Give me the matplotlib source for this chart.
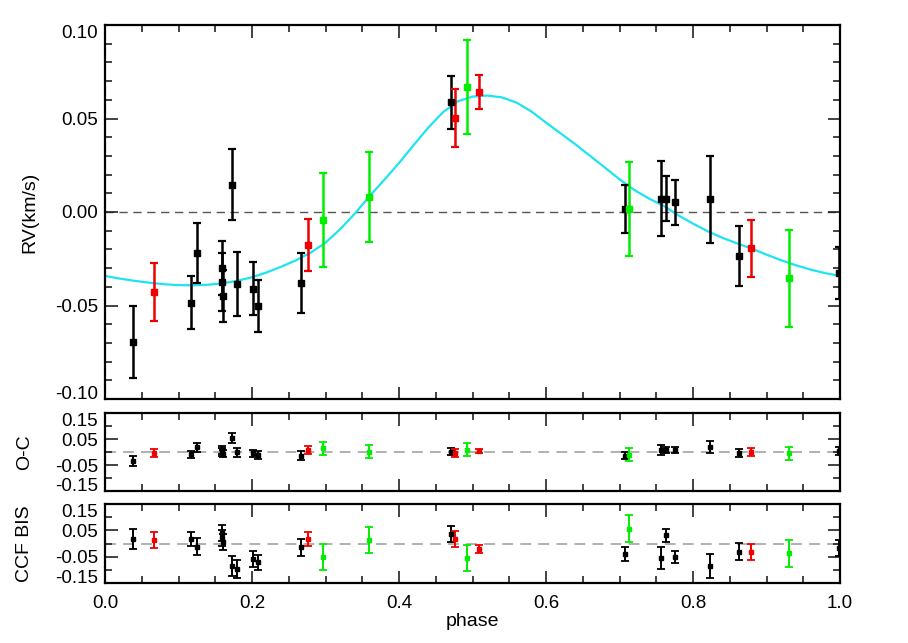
import matplotlib
matplotlib.use("Agg")
import matplotlib.pyplot as plt
from matplotlib.ticker import MultipleLocator, FixedLocator

plt.rcParams['font.family'] = ['Liberation Sans', 'DejaVu Sans']

# ---- data: black series ----
blk_phase = [0.0385, 0.1166, 0.1256, 0.1587, 0.1595, 0.1605, 0.1732, 0.179, 0.2009, 0.2082,
             0.2662, 0.4703, 0.7075, 0.756, 0.7637, 0.775, 0.8227, 0.8621, 0.9986]
blk_rv = [-0.0694, -0.0485, -0.0221, -0.030, -0.0375, -0.045, 0.0147, -0.0385, -0.041, -0.0503,
          -0.038, 0.0586, 0.0017, 0.0072, 0.0071, 0.0053, 0.0067, -0.0237, -0.0326]
blk_rv_err = [0.0193, 0.0141, 0.0161, 0.0145, 0.0155, 0.014, 0.019, 0.0172, 0.014, 0.014,
              0.016, 0.014, 0.013, 0.0201, 0.012, 0.012, 0.0231, 0.0161, 0.014]
blk_oc = [-0.0335, -0.009, 0.018, 0.008, 0.0005, -0.007, 0.0526, -0.001, -0.005, -0.0115,
          -0.014, 0.001, -0.0135, 0.0077, 0.0065, 0.0077, 0.0205, -0.005, 0.004]
blk_bis = [0.017, 0.017, -0.0115, 0.040, 0.020, 0.005, -0.085, -0.097, -0.059, -0.072,
           -0.015, 0.036, -0.041, -0.056, 0.031, -0.051, -0.085, -0.031, -0.018]
blk_bis_err = [0.039, 0.028, 0.033, 0.03, 0.03, 0.03, 0.037, 0.035, 0.030, 0.029,
               0.032, 0.029, 0.027, 0.041, 0.024, 0.024, 0.045, 0.033, 0.03]

# ---- data: red series ----
red_phase = [0.0667, 0.2757, 0.4767, 0.5088, 0.8789]
red_rv = [-0.043, -0.0174, 0.0503, 0.0641, -0.0194]
red_rv_err = [0.0155, 0.0139, 0.0156, 0.0091, 0.0151]
red_oc = [-0.005, 0.0077, -0.005, 0.004, 0.001]
red_bis = [0.013, 0.017, 0.017, -0.0215, -0.031]
red_bis_err = [0.031, 0.027, 0.032, 0.016, 0.031]

# ---- data: green series ----
grn_phase = [0.2961, 0.3587, 0.4929, 0.7129, 0.931]
grn_rv = [-0.0044, 0.0078, 0.0668, 0.0015, -0.0355]
grn_rv_err = [0.0251, 0.0241, 0.0251, 0.025, 0.026]
grn_oc = [0.014, 0.001, 0.008, -0.0115, -0.005]
grn_bis = [-0.052, 0.014, -0.055, 0.0565, -0.037]
grn_bis_err = [0.05, 0.049, 0.051, 0.051, 0.052]

# ---- model curve ----
model_phase = [0.00, 0.02, 0.04, 0.06, 0.08, 0.10, 0.12, 0.14, 0.16, 0.18,
               0.20, 0.22, 0.24, 0.26, 0.28, 0.30, 0.32, 0.34, 0.36, 0.38,
               0.40, 0.42, 0.44, 0.46, 0.48, 0.50, 0.52, 0.54, 0.56, 0.58,
               0.60, 0.62, 0.64, 0.66, 0.68, 0.70, 0.72, 0.74, 0.76, 0.78,
               0.80, 0.82, 0.84, 0.86, 0.88, 0.90, 0.92, 0.94, 0.96, 0.98, 1.00]
model_rv = [-0.0342, -0.0356, -0.0368, -0.0378, -0.0386, -0.0391, -0.0392, -0.0389, -0.0381, -0.0368,
            -0.0349, -0.0323, -0.0292, -0.0258, -0.0217, -0.0164, -0.0092, -0.0008, 0.0085, 0.0172,
            0.0262, 0.0358, 0.0452, 0.0534, 0.0592, 0.0617, 0.0623, 0.0613, 0.0585, 0.0538,
            0.0478, 0.0420, 0.0362, 0.0300, 0.0238, 0.0175, 0.0118, 0.0072, 0.0033, -0.0018,
            -0.0062, -0.0103, -0.0138, -0.0168, -0.0196, -0.0228, -0.0258, -0.0285, -0.0308, -0.0327, -0.0342]

BLACK = '#000000'
RED = '#ee0000'
GREEN = '#00ee00'
CYAN = '#1ee3f0'

series = [
    (blk_phase, blk_rv, blk_rv_err, blk_oc, blk_bis, blk_bis_err, BLACK),
    (red_phase, red_rv, red_rv_err, red_oc, red_bis, red_bis_err, RED),
    (grn_phase, grn_rv, grn_rv_err, grn_oc, grn_bis, grn_bis_err, GREEN),
]

W, H = 908, 643
fig = plt.figure(figsize=(W / 100, H / 100), dpi=100)

def rect(l, t, r, b):
    return [l / W, 1 - b / H, (r - l) / W, (b - t) / H]

ax1 = fig.add_axes(rect(105, 25, 840, 399))
ax2 = fig.add_axes(rect(105, 413, 840, 491))
ax3 = fig.add_axes(rect(105, 504, 840, 583))

for ax in (ax1, ax2, ax3):
    ax.set_xlim(0, 1)
    ax.xaxis.set_major_locator(MultipleLocator(0.2))
    ax.xaxis.set_minor_locator(MultipleLocator(0.05))
    ax.tick_params(which='both', direction='in', top=True, right=True,
                   labelsize=13.5, width=1.2, color='#222222', pad=5)
    ax.tick_params(which='major', length=9)
    ax.tick_params(which='minor', length=5)
    for sp in ax.spines.values():
        sp.set_linewidth(1.6)

# main panel
ax1.set_ylim(-0.1, 0.1)
ax1.yaxis.set_minor_locator(MultipleLocator(0.01))
ax1.set_yticks([-0.1, -0.05, 0.0, 0.05, 0.1])
ax1.set_yticklabels(['-0.10', '-0.05', '0.00', '0.05', '0.10'])
ax1.tick_params(axis='x', labelbottom=False)
ax1.axhline(0, color='#555555', lw=1.0, ls=(0, (6, 4)), zorder=1)
ax1.plot(model_phase, model_rv, color=CYAN, lw=1.6, zorder=2)
for ph, rv, er, oc, bis, ber, c in series:
    ax1.errorbar(ph, rv, yerr=er, fmt='s', color=c, ms=4.5, elinewidth=1.8,
                 capsize=3, capthick=1.6, zorder=3)
ax1.set_ylabel('RV(km/s)', fontsize=14)
ax1.yaxis.set_label_coords(-0.09, 0.5)
labs = ax1.get_yticklabels()
labs[0].set_va('baseline')
labs[-1].set_va('top')

for ax in (ax2, ax3):
    ax.set_ylim(-0.15, 0.15)
    ax.yaxis.set_major_locator(FixedLocator([-0.15, -0.05, 0.05, 0.15]))
    ax.yaxis.set_minor_locator(FixedLocator([-0.1, 0.0, 0.1]))
    ax.set_yticklabels(['-0.15', '-0.05', '0.05', '0.15'])
    labs = ax.get_yticklabels()
    labs[0].set_va('baseline')
    labs[-1].set_va('top')
    ax.axhline(0, color='#aaaaaa', lw=1.3, ls=(0, (6, 4)), zorder=1)

for ph, rv, er, oc, bis, ber, c in series:
    ax2.errorbar(ph, oc, yerr=er, fmt='s', color=c, ms=2.5, elinewidth=1.4,
                 capsize=3, capthick=1.3, zorder=3)
    ax3.errorbar(ph, bis, yerr=ber, fmt='s', color=c, ms=2.5, elinewidth=1.4,
                 capsize=3, capthick=1.3, zorder=3)

ax2.tick_params(axis='x', labelbottom=False)
ax2.set_ylabel('O-C', fontsize=14)
ax2.yaxis.set_label_coords(-0.098, 0.5)
ax3.set_ylabel('CCF BIS', fontsize=14)
ax3.yaxis.set_label_coords(-0.098, 0.5)
ax3.set_xticks([0.0, 0.2, 0.4, 0.6, 0.8, 1.0])
ax3.set_xticklabels(['0.0', '0.2', '0.4', '0.6', '0.8', '1.0'])
ax3.tick_params(axis='x', pad=9)
ax3.set_xlabel('phase', fontsize=14, labelpad=0)

fig.savefig('out.png', dpi=100)
